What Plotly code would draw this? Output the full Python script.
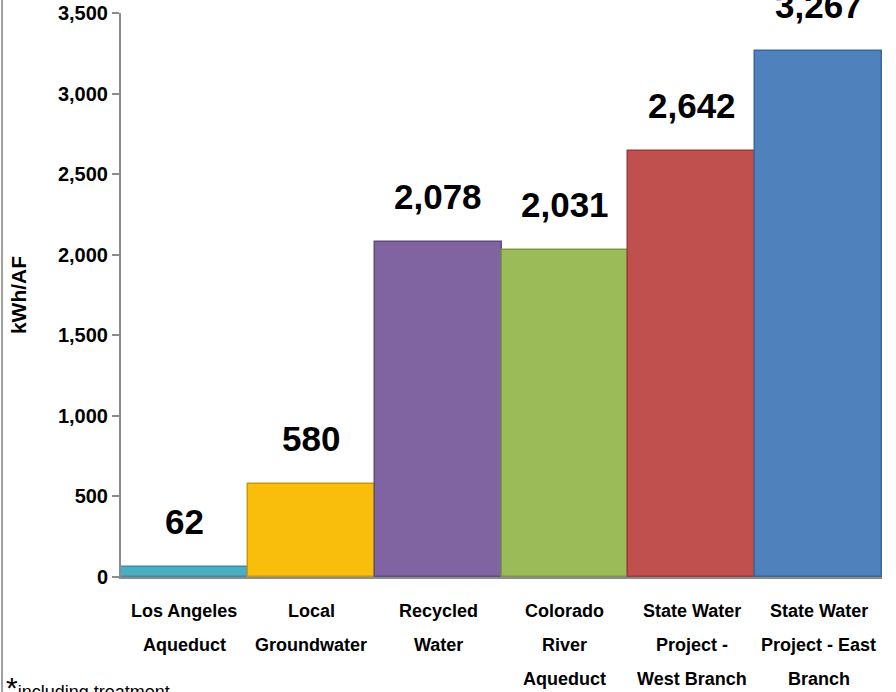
import plotly.graph_objects as go

# Energy intensity of water supply sources
categories = [
    "Los Angeles<br>Aqueduct",
    "Local<br>Groundwater",
    "Recycled<br>Water",
    "Colorado<br>River<br>Aqueduct",
    "State Water<br>Project -<br>West Branch",
    "State Water<br>Project - East<br>Branch",
]
values = [62, 580, 2078, 2031, 2642, 3267]
bar_colors = ["#4BACC6", "#F9BE0C", "#8064A2", "#9BBB59", "#C0504D", "#4F81BD"]
edge_colors = ["#3A8DA6", "#C99A08", "#624C80", "#7B9744", "#9A3D3A", "#3C6699"]
y_ticks = [0, 500, 1000, 1500, 2000, 2500, 3000, 3500]

FONT = "Liberation Sans, Arial, sans-serif"

fig = go.Figure(
    go.Bar(
        x=list(range(len(categories))),
        y=values,
        marker=dict(color=bar_colors, line=dict(color=edge_colors, width=1.5)),
        width=1.0,
        hoverinfo="skip",
    )
)

annotations = []
# value labels above each bar
for i, v in enumerate(values):
    annotations.append(dict(
        x=i, y=v, xref="x", yref="y", text=f"<b>{v:,}</b>",
        showarrow=False, yanchor="bottom", yshift=24,
        font=dict(family=FONT, size=35, color="#000000"),
    ))
# category labels, one line at a time for wide line spacing
for i, cat in enumerate(categories):
    for j, line in enumerate(cat.split("<br>")):
        annotations.append(dict(
            x=i, y=0, xref="x", yref="paper", text=f"<b>{line}</b>",
            showarrow=False, yanchor="middle", yshift=-34 - 34 * j,
            font=dict(family=FONT, size=18, color="#000000"),
        ))
# footnote
annotations.append(dict(
    x=0, y=0, xref="paper", yref="paper", xanchor="left", yanchor="top",
    text="<span style='font-size:30px'>*</span>including treatment",
    showarrow=False, xshift=-117, yshift=-92,
    font=dict(family=FONT, size=18, color="#000000"),
))

fig.update_layout(
    width=896, height=692,
    margin=dict(l=121, r=14, t=13, b=115),
    paper_bgcolor="white", plot_bgcolor="white",
    bargap=0,
    showlegend=False,
    annotations=annotations,
    xaxis=dict(
        range=[-0.5, 5.5], showticklabels=False, ticks="",
        showline=True, linecolor="#8C8C8C", linewidth=2,
        showgrid=False, zeroline=False, fixedrange=True, automargin=False,
    ),
    yaxis=dict(
        range=[0, 3500], tickvals=y_ticks,
        ticktext=[f"<b>{t:,}</b>" for t in y_ticks],
        ticks="outside", ticklen=7, tickcolor="#8C8C8C", tickwidth=2,
        showline=True, linecolor="#8C8C8C", linewidth=2,
        showgrid=False, zeroline=False, automargin=False,
        tickfont=dict(family=FONT, size=20, color="#000000"),
        title=dict(text="<b>kWh/AF</b>", standoff=26,
                   font=dict(family=FONT, size=21, color="#000000")),
        fixedrange=True,
    ),
    shapes=[dict(
        type="line", xref="paper", yref="paper",
        x0=-119 / 761, x1=-119 / 761, y0=-0.3, y1=1.1,
        line=dict(color="#A0A0A0", width=2),
    )],
)

fig.write_html("out.html")
